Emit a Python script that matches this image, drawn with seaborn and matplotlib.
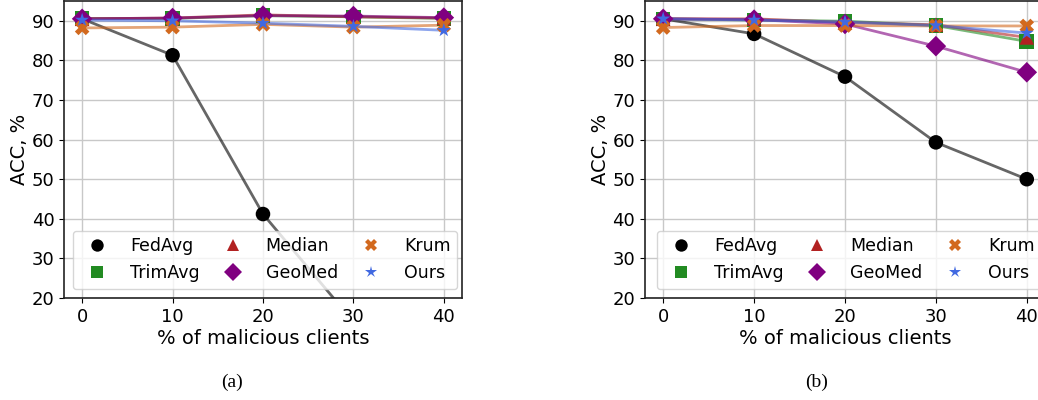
import matplotlib
matplotlib.use("Agg")
import matplotlib.pyplot as plt
import seaborn as sns
import pandas as pd

# Fraction of malicious clients (%) on the x axis
malicious = [0, 10, 20, 30, 40]
methods = ["FedAvg", "TrimAvg", "Median", "GeoMed", "Krum", "Ours"]

# Accuracy (%) for setting (a)
acc_a_fedavg = [90.5, 81.3, 41.2, 14.0, 10.0]
acc_a_trimavg = [90.6, 90.6, 91.3, 91.0, 90.6]
acc_a_median = [90.5, 90.7, 91.5, 91.0, 90.7]
acc_a_geomed = [90.5, 90.7, 91.3, 91.2, 90.8]
acc_a_krum = [88.2, 88.4, 89.1, 88.4, 88.9]
acc_a_ours = [90.2, 90.0, 89.4, 88.6, 87.6]

# Accuracy (%) for setting (b)
acc_b_fedavg = [90.5, 86.7, 75.9, 59.3, 50.0]
acc_b_trimavg = [90.5, 90.2, 89.9, 88.8, 84.8]
acc_b_median = [90.5, 90.5, 89.6, 89.0, 85.8]
acc_b_geomed = [90.5, 90.3, 89.2, 83.6, 77.0]
acc_b_krum = [88.3, 88.8, 88.8, 88.7, 88.7]
acc_b_ours = [90.5, 90.2, 89.7, 88.8, 86.9]

colors = {"FedAvg": "black", "TrimAvg": "forestgreen", "Median": "firebrick",
          "GeoMed": "purple", "Krum": "chocolate", "Ours": "royalblue"}
markers = {"FedAvg": "o", "TrimAvg": "s", "Median": "^",
           "GeoMed": "D", "Krum": "X", "Ours": "*"}


def to_long(series):
    rows = []
    for name, vals in zip(methods, series):
        for x, v in zip(malicious, vals):
            rows.append({"malicious": x, "acc": v, "method": name})
    return pd.DataFrame(rows)


df_a = to_long([acc_a_fedavg, acc_a_trimavg, acc_a_median,
                acc_a_geomed, acc_a_krum, acc_a_ours])
df_b = to_long([acc_b_fedavg, acc_b_trimavg, acc_b_median,
                acc_b_geomed, acc_b_krum, acc_b_ours])

sns.set_style("ticks")
plt.rcParams["font.family"] = ["DejaVu Sans"]
plt.rcParams.update({"text.color": "black", "axes.labelcolor": "black",
                     "xtick.color": "black", "ytick.color": "black"})

fig = plt.figure(figsize=(10.38, 4.0), dpi=100)
ax_a = fig.add_axes([0.0617, 0.255, 0.3833, 0.7425])
ax_b = fig.add_axes([0.6214, 0.255, 0.3853, 0.7425])

for ax, df, cap, cx, lx in [(ax_a, df_a, "(a)", 0.2235, 0.022),
                            (ax_b, df_b, "(b)", 0.787, 0.03)]:
    sns.lineplot(data=df, x="malicious", y="acc", hue="method", hue_order=methods,
                 palette=colors, linewidth=2, alpha=0.6, legend=False, ax=ax)
    sns.scatterplot(data=df, x="malicious", y="acc", hue="method", hue_order=methods,
                    style="method", style_order=methods, markers=markers,
                    palette=colors, s=110, linewidth=0, ax=ax, zorder=3)
    ax.set_ylim(20, 95)
    ax.set_xlim(-2, 42)
    ax.set_xticks(malicious)
    ax.set_yticks([20, 30, 40, 50, 60, 70, 80, 90])
    ax.grid(True, color="#c8c8c8", linewidth=1)
    ax.set_axisbelow(True)
    ax.tick_params(labelsize=13)
    ax.set_xlabel("% of malicious clients", fontsize=14, labelpad=2)
    ax.set_ylabel("ACC, %", fontsize=14, labelpad=2)
    for sp in ax.spines.values():
        sp.set_color("#222222")
        sp.set_linewidth(1.2)
    handles, labels = ax.get_legend_handles_labels()
    ax.legend(handles, labels, loc="lower left", bbox_to_anchor=(lx, 0.03),
              borderaxespad=0, ncol=3, fontsize=12.5, markerscale=0.85,
              columnspacing=0.9, handletextpad=0.9, framealpha=0.8)
    fig.text(cx, 0.045, cap, ha="center", va="center", fontsize=14,
             family="Liberation Serif")

fig.savefig("out.png", dpi=100)
